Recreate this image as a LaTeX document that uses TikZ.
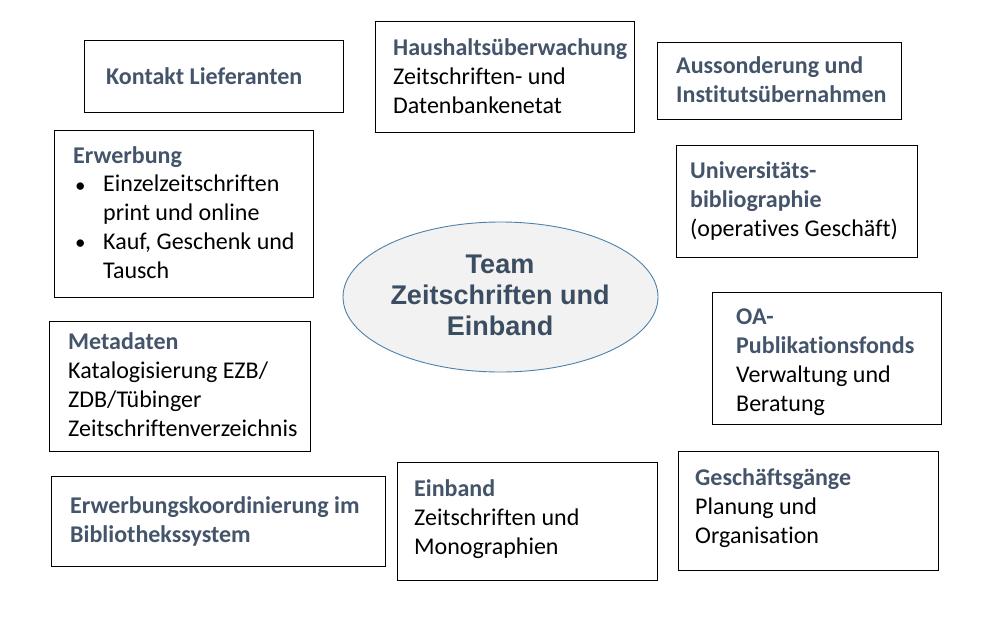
\documentclass[tikz,border=0pt]{standalone}
\usepackage{fontspec}
\setmainfont[Ligatures=NoCommon]{Carlito}
\newfontfamily\arialfont{Liberation Sans}
\usetikzlibrary{shapes.geometric}
\definecolor{headc}{HTML}{44546A}
\definecolor{ellc}{HTML}{3B4D60}
\definecolor{ellfill}{HTML}{F2F2F2}
\definecolor{elldraw}{HTML}{4F81A8}
\tikzset{
  box/.style={draw=black, line width=1pt, fill=white, rectangle, inner sep=0pt, anchor=north west},
  txt/.style={anchor=base west, inner sep=0pt, align=left, font=\fontsize{24}{29}\selectfont, text=black},
  hd/.style={txt, font=\fontsize{24}{29}\selectfont\bfseries, text=headc},
  bul/.style={txt, font=\fontsize{21}{29}\selectfont},
}
\newcommand{\hdc}[1]{\textcolor{headc}{\textbf{#1}}}
\begin{document}
\begin{tikzpicture}[x=1pt,y=-1pt]
\useasboundingbox (0,0) rectangle (983,627);
% boxes
\node[box, minimum width=259pt, minimum height=72pt] (b1) at (84,40) {};
\node[box, minimum width=259pt, minimum height=111pt] (b2) at (375,21) {};
\node[box, minimum width=244pt, minimum height=77pt] (b3) at (657,42) {};
\node[box, minimum width=259pt, minimum height=167pt] (b4) at (54,130) {};
\node[box, minimum width=241pt, minimum height=112pt] (b5) at (676,145) {};
\node[box, minimum width=261pt, minimum height=130pt] (b6) at (49,321) {};
\node[box, minimum width=229pt, minimum height=132pt] (b7) at (712,292) {};
\node[box, minimum width=334pt, minimum height=90pt] (b8) at (51,476) {};
\node[box, minimum width=260pt, minimum height=118pt] (b9) at (397,462) {};
\node[box, minimum width=260pt, minimum height=119pt] (b10) at (678,451) {};
% ellipse
\node[ellipse, draw=elldraw, line width=0.9pt, fill=ellfill, minimum width=315pt, minimum height=150pt, inner sep=0pt] (ell) at (500.5,297) {};
\node[align=center, text=ellc, inner sep=0pt, font=\fontsize{27}{31}\selectfont\arialfont\bfseries] (ellt) at (500,295) {Team\\Zeitschriften und\\Einband};
% texts (anchor = baseline of the last line)
\node[hd] (t1) at (106,84) {Kontakt Lieferanten};
\node[txt] (t2) at (393,113) {\hdc{Haushaltsüberwachung}\\Zeitschriften- und\\Datenbankenetat};
\node[hd] (t3) at (676,102) {Aussonderung und\\Institutsübernahmen};
\node[txt] (t4) at (73,163) {\hdc{Erwerbung}};
\node[bul] (t4a) at (75,192) {•};
\node[txt] (t4b) at (103,220) {Einzelzeitschriften\\print und online};
\node[bul] (t4c) at (75,249) {•};
\node[txt] (t4d) at (103,278) {Kauf, Geschenk und\\Tausch};
\node[txt] (t5) at (690,236) {\hdc{Universitäts-}\\\hdc{bibliographie}\\(operatives Geschäft)};
\node[txt] (t6) at (68,436) {\hdc{Metadaten}\\Katalogisierung EZB/\\ZDB/Tübinger\\Zeitschriftenverzeichnis};
\node[txt] (t7) at (736,411) {\hdc{OA-}\\\hdc{Publikationsfonds}\\Verwaltung und\\Beratung};
\node[hd] (t8) at (70,542) {Erwerbungskoordinierung im\\Bibliothekssystem};
\node[txt] (t9) at (414,554) {\hdc{Einband}\\Zeitschriften und\\Monographien};
\node[txt] (t10) at (695,543) {\hdc{Geschäftsgänge}\\Planung und\\Organisation};
\end{tikzpicture}
\end{document}
